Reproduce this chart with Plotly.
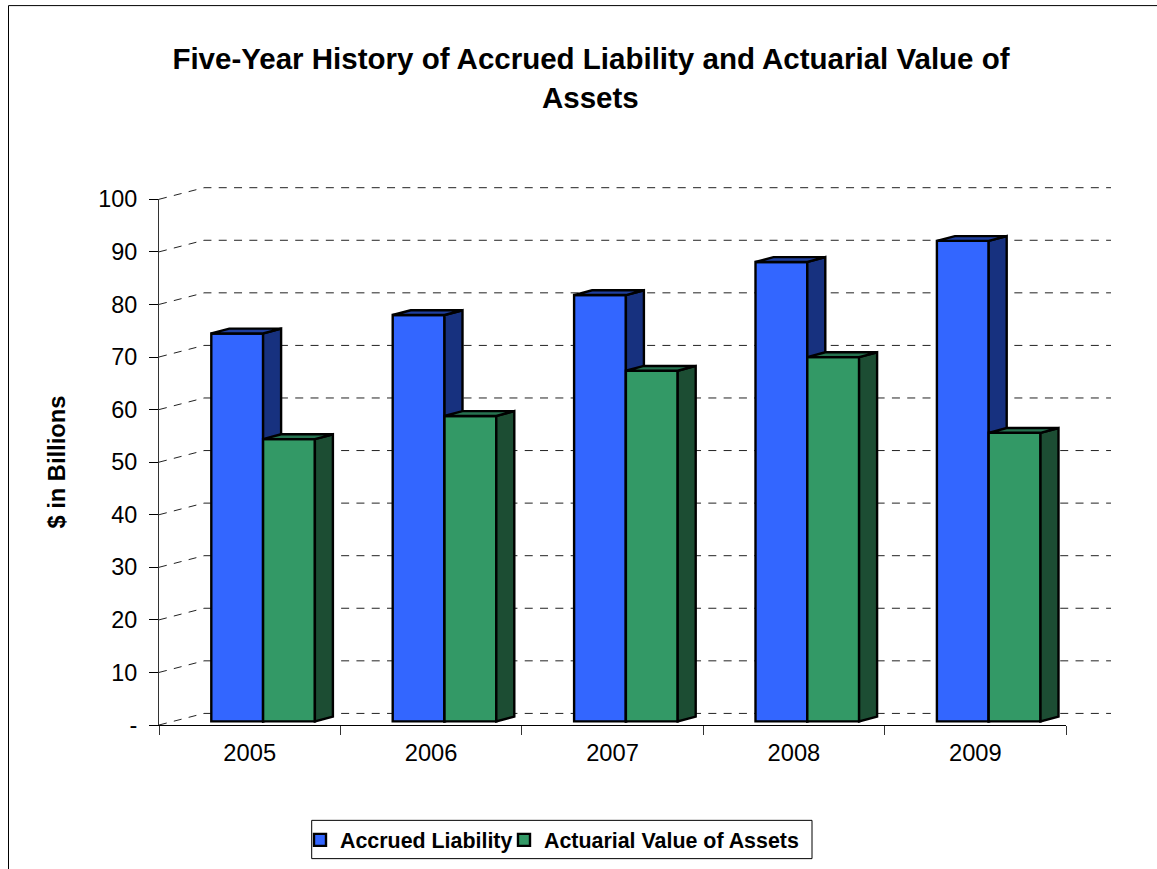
import plotly.graph_objects as go

years = ["2005", "2006", "2007", "2008", "2009"]
accrued_liability = [73.8, 77.3, 81.1, 87.4, 91.4]
actuarial_assets = [53.7, 58.1, 66.7, 69.3, 54.9]
y_ticks = [0, 10, 20, 30, 40, 50, 60, 70, 80, 90, 100]
y_labels = ["-", "10", "20", "30", "40", "50", "60", "70", "80", "90", "100"]

W, H = 1157, 869
L, R, T, B = 159.0, 1066.0, 199.3, 725.3     # front plane of the chart
OUTER_R, OUTER_T = 1112.0, 185.0             # room for the back wall
PX_X = (R - L) / 5.0      # pixels per category
PX_Y = (B - T) / 100.0    # pixels per unit


def px(x):
    return (x - L) / (OUTER_R - L)


def py(y):
    return (B - y) / (B - OUTER_T)


WALL_DX, WALL_DY = 45 / PX_X, 11.6 / PX_Y
BAR_DX, BAR_DY = 18 / PX_X, 4.8 / PX_Y
BAR_W = 51.8 / PX_X
BAR_BASE = 3.6 / PX_Y
OFF_A = (211.3 - 249.7) / PX_X
OFF_B = OFF_A + BAR_W
EDGE = 2.4

FONT = "Liberation Sans, Arial, sans-serif"
fig = go.Figure()

# back-wall dashed gridlines (on the wide hidden axes, behind everything)
for v in y_ticks:
    fig.add_trace(go.Scatter(
        x=[-0.5, -0.5 + WALL_DX, 4.5 + WALL_DX], y=[v, v + WALL_DY, v + WALL_DY],
        mode="lines", line=dict(color="#222222", width=1, dash="8px,7.3px"),
        showlegend=False, hoverinfo="skip"))


def add_bars(name, values, offset, front, side, top, xa, ya, legend):
    fig.add_trace(go.Bar(
        x=list(range(5)), y=values, base=BAR_BASE,
        width=BAR_W, offset=offset, name=name, legend=legend,
        marker=dict(color=front, line=dict(color="black", width=EDGE)),
        cliponaxis=False, xaxis=xa, yaxis=ya))
    for i, v in enumerate(values):
        x0 = i + offset
        x1 = x0 + BAR_W
        h = v + BAR_BASE
        fig.add_trace(go.Scatter(
            x=[x1, x1 + BAR_DX, x1 + BAR_DX, x1, x1],
            y=[h, h + BAR_DY, BAR_BASE + BAR_DY, BAR_BASE, h],
            mode="lines", fill="toself", fillcolor=side,
            line=dict(color="black", width=EDGE), showlegend=False,
            hoverinfo="skip", xaxis=xa, yaxis=ya))
        fig.add_trace(go.Scatter(
            x=[x0, x1, x1 + BAR_DX, x0 + BAR_DX, x0],
            y=[h, h, h + BAR_DY, h + BAR_DY, h],
            mode="lines", fill="toself", fillcolor=top,
            line=dict(color="black", width=EDGE), showlegend=False,
            hoverinfo="skip", xaxis=xa, yaxis=ya))


add_bars("Accrued Liability", accrued_liability, OFF_A, "#3366FF", "#17317F", "#1F3F9F", "x2", "y2", "legend")
add_bars("Actuarial Value of Assets", actuarial_assets, OFF_B, "#339966", "#1C4D33", "#267350", "x3", "y3", "legend2")

legend_style = dict(orientation="h", xref="container", yref="container",
                    xanchor="left", y=1 - 840 / H, yanchor="middle",
                    bgcolor="rgba(0,0,0,0)", borderwidth=0,
                    font=dict(size=21.4, weight="bold"))

fig.update_layout(
    width=W, height=H, autosize=False, showlegend=True,
    paper_bgcolor="white", plot_bgcolor="rgba(0,0,0,0)",
    margin=dict(l=L, r=W - OUTER_R, t=OUTER_T, b=H - B),
    font=dict(family=FONT, color="black"),
    title=dict(text="<b>Five-Year History of Accrued Liability and Actuarial Value of</b>",
               font=dict(size=29.5, family=FONT), x=591 / W, xanchor="center",
               y=1 - 59 / H, yanchor="middle"),
    xaxis=dict(range=[-0.5, -0.5 + (OUTER_R - L) / PX_X], visible=False),
    yaxis=dict(range=[0, (B - OUTER_T) / PX_Y], visible=False),
    xaxis2=dict(domain=[0, px(R)], anchor="y2", range=[-0.5, 4.5],
                tickmode="array", tickvals=list(range(5)), ticktext=years,
                ticks="outside", ticklen=7, tickcolor="rgba(0,0,0,0)",
                tickfont=dict(size=23.7), showgrid=False, zeroline=False,
                showline=True, linecolor="black", linewidth=1,
                minor=dict(tickmode="array", tickvals=[-0.5, 0.5, 1.5, 2.5, 3.5, 4.5],
                           ticks="outside", ticklen=9, tickcolor="#333333", tickwidth=1)),
    yaxis2=dict(domain=[0, py(T)], anchor="x2", range=[0, 100],
                tickmode="array", tickvals=y_ticks, ticktext=y_labels,
                ticks="outside", ticklen=9, tickcolor="black", tickwidth=1,
                ticklabelstandoff=7,
                tickfont=dict(size=23.4), showgrid=False, zeroline=False,
                showline=True, linecolor="#333333", linewidth=1,
                title=dict(text="<b>$ in Billions</b>", font=dict(size=23.7), standoff=25)),
    xaxis3=dict(range=[-0.5, 4.5], overlaying="x2", visible=False),
    yaxis3=dict(range=[0, 100], overlaying="y2", visible=False),
    legend=dict(x=300 / W, **legend_style),
    legend2=dict(x=504 / W, **legend_style),
    annotations=[dict(text="<b>Assets</b>", xref="paper", yref="paper", x=px(590), y=py(97),
                      xanchor="center", yanchor="middle", showarrow=False,
                      font=dict(size=29.5, family=FONT))],
    shapes=[
        dict(type="line", xref="paper", yref="paper", x0=px(8.5), x1=px(8.5), y0=py(5.5), y1=py(875),
             line=dict(color="black", width=1)),
        dict(type="line", xref="paper", yref="paper", x0=px(8.5), x1=px(1157), y0=py(5.5), y1=py(5.5),
             line=dict(color="black", width=1)),
        dict(type="rect", xref="paper", yref="paper", x0=px(311.7), x1=px(812), y0=py(859), y1=py(820.7),
             fillcolor="white", line=dict(color="black", width=1), layer="below"),
    ],
)

fig.write_html("out.html", config={"displayModeBar": False},
               post_script="document.body.style.margin='0';document.body.style.overflow='hidden';")
